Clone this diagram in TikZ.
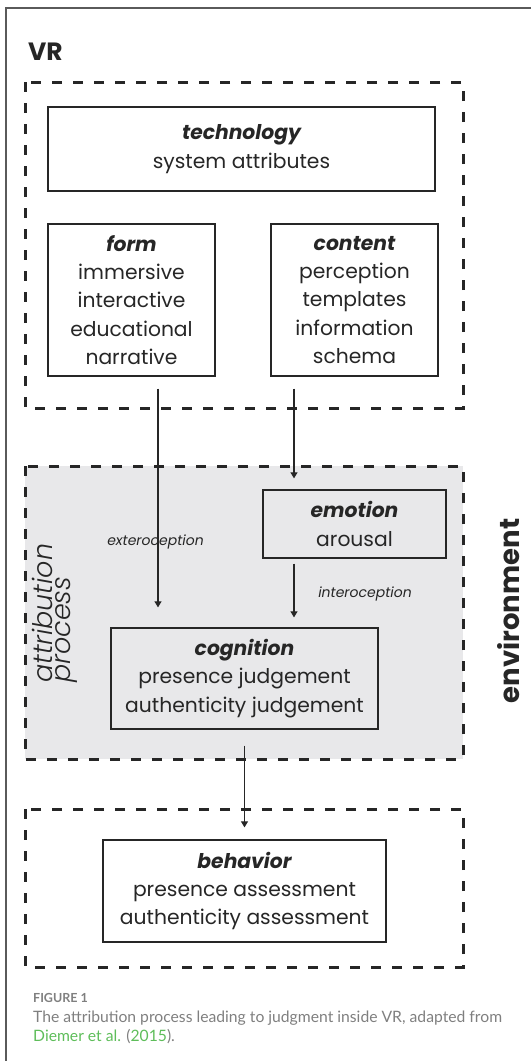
\documentclass[tikz,border=0pt]{standalone}
\usepackage{fontspec}
\setmainfont{Poppins}
\newfontfamily\poplight{Poppins}[UprightFont={* Light},ItalicFont={* Light Italic}]
\newfontfamily\capfont{Lato}
\usetikzlibrary{arrows.meta,calc}
\definecolor{panelgray}{HTML}{E8E8EA}
\definecolor{ink}{HTML}{262626}
\definecolor{framegray}{HTML}{5A5A5A}
\definecolor{capgray}{HTML}{7F7F7F}
\definecolor{citegreen}{HTML}{5EBD5A}
\newcommand\blockhead[1]{{\bfseries\itshape #1}}
\begin{document}
\begin{tikzpicture}[x=1pt,y=-1pt,
  frameline/.style={draw=framegray,line width=1.2pt},
  zone/.style={draw=ink,line width=3pt,dash pattern=on 10pt off 11pt},
  block/.style={draw=ink,line width=1.3pt,inner sep=0pt,align=center,
    text=ink,font=\fontsize{20.3}{28.4}\selectfont},
  arr/.style={draw=ink,line width=1.1pt,-{Triangle[width=7pt,length=6pt]}},
  flowlabel/.style={text=ink,inner sep=0pt,font=\fontsize{14}{16}\selectfont\itshape},
  captext/.style={anchor=base west,inner sep=0pt,text=capgray,font=\capfont\fontsize{15.7}{19}\selectfont}
]
\useasboundingbox (0,0) rectangle (531,1061);

% page frame
\draw[frameline] (6,1061) -- (6,8) -- (531,8);

% grey band behind the attribution process
\fill[panelgray] (25,466) rectangle (463,759);

% dashed zones
\draw[zone] (25,82) rectangle (463,408);
\draw[zone] (25,466) rectangle (463,759);
\draw[zone] (25,809) rectangle (463,967);

% titles
\node[anchor=base west,inner sep=0pt,text=ink,font=\fontsize{25}{30}\selectfont\bfseries] (vr) at (28,60) {VR};
\node[rotate=90,inner sep=0pt,text=ink,font=\fontsize{27.5}{32}\selectfont\bfseries] (env) at (508.5,611) {environment};
\node[rotate=90,anchor=west,inner sep=0pt,align=left,text=ink,
  font=\fontsize{27}{18}\selectfont\poplight\itshape] (attr) at (55,683) {attribution\\process};

% blocks
\node[block,minimum width=387pt,minimum height=84pt] (tech) at (241.5,149)
  {\blockhead{technology}\\system attributes};
\node[block,minimum width=167pt,minimum height=152pt] (form) at (131.5,300)
  {\blockhead{form}\\immersive\\interactive\\educational\\narrative};
\node[block,minimum width=167pt,minimum height=152pt] (content) at (354.5,300)
  {\blockhead{content}\\perception\\templates\\information\\schema};
\node[block,minimum width=183pt,minimum height=68pt] (emotion) at (354.5,524)
  {\blockhead{emotion}\\arousal};
\node[block,minimum width=267pt,minimum height=101pt] (cognition) at (244.5,678.5)
  {\blockhead{cognition}\\presence judgement\\authenticity judgement};
\node[block,minimum width=283pt,minimum height=102pt] (behavior) at (244.5,891)
  {\blockhead{behavior}\\presence assessment\\authenticity assessment};

% connector labels
\node[flowlabel] (extero) at (155.5,542) {exteroception};
\node[flowlabel] (intero) at (365,594) {interoception};

% connectors
\draw[arr] ([xshift=26.5pt,yshift=-12pt]form.south) -- ([xshift=-86.5pt,yshift=20pt]cognition.north);
\draw[arr] ([xshift=-60.5pt,yshift=-12pt]content.south) -- ([xshift=-60.5pt,yshift=11pt]emotion.north);
\draw[arr] ([xshift=-60.5pt,yshift=-5pt]emotion.south) -- ([xshift=49.5pt,yshift=10pt]cognition.north);
\draw[arr] ([yshift=-16pt]cognition.south) -- ([yshift=12pt]behavior.north);

% caption
\node[anchor=base west,inner sep=0pt,text=capgray,font=\capfont\bfseries\fontsize{12.5}{14}\selectfont] (fig) at (33,1002) {FIGURE 1};
\node[captext] (cap1) at (33,1022) {The attribution process leading to judgment inside VR, adapted from};
\node[captext] (cap2) at (33,1041) {\textcolor{citegreen}{Diemer et al.} (\textcolor{citegreen}{2015}).};
\end{tikzpicture}
\end{document}
